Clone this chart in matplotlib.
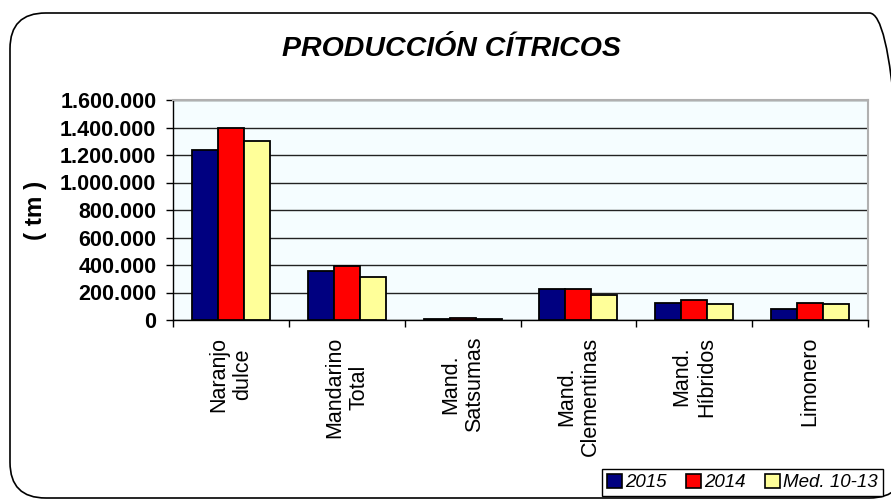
import numpy as np
import matplotlib
matplotlib.use("Agg")
import matplotlib.pyplot as plt
from matplotlib.patches import FancyBboxPatch, Patch
from matplotlib.ticker import FuncFormatter

# Datos (toneladas)
categorias = ["Naranjo\ndulce", "Mandarino\nTotal", "Mand.\nSatsumas",
              "Mand.\nClementinas", "Mand.\nHíbridos", "Limonero"]
prod_2015 = [1240000, 360000, 5000, 227000, 123000, 82000]
prod_2014 = [1400000, 396000, 14000, 229000, 145000, 123000]
media_10_13 = [1303000, 313000, 8000, 183000, 114000, 114000]
series = ["2015", "2014", "Med. 10-13"]
colores = ["#000080", "#FF0000", "#FFFF99"]

plt.rcParams['font.family'] = ['Liberation Sans', 'DejaVu Sans']

fig = plt.figure(figsize=(8.91, 5), dpi=100)
ax = fig.add_axes([173/891, 1-320/500, 695/891, 220/500])

# marco redondeado del grafico (sale por la derecha, como en el original)
marco = FancyBboxPatch((10/891, 2/500), 895/891, 485/500,
                       boxstyle="round,pad=0,rounding_size=0.04",
                       transform=fig.transFigure, fill=False,
                       edgecolor="black", linewidth=1.2, mutation_aspect=891/500)
fig.patches.append(marco)

x = np.arange(len(categorias))
w = 0.224
for i, (vals, c) in enumerate(zip([prod_2015, prod_2014, media_10_13], colores)):
    ax.bar(x + (i-1)*w, vals, width=w, color=c, edgecolor="black",
           linewidth=1.3, zorder=3)

ax.set_facecolor("#F5FDFF")
ax.set_xlim(-0.5, len(categorias)-0.5)
ax.set_ylim(0, 1600000)
ax.set_yticks(np.arange(0, 1600001, 200000))
ax.yaxis.set_major_formatter(FuncFormatter(lambda v, p: f"{int(v):,}".replace(",", ".")))
ax.grid(axis="y", color="#222222", linewidth=1, zorder=0)

for s in ["top", "right"]:
    ax.spines[s].set_color("#B0B0B0")
    ax.spines[s].set_linewidth(1.5)
for s in ["left", "bottom"]:
    ax.spines[s].set_color("black")
    ax.spines[s].set_linewidth(1)

ax.tick_params(axis="y", length=5, width=1, pad=7, labelsize=15.5)
for lab in ax.get_yticklabels():
    lab.set_fontweight("bold")

ax.set_xticks(x)
ax.set_xticklabels(categorias, rotation=90, fontsize=15.5, va="top",
                   ha="center", multialignment="center")
ax.tick_params(axis="x", which="major", length=0, pad=12)
ax.set_xticks(np.arange(-0.5, len(categorias), 1), minor=True)
ax.tick_params(axis="x", which="minor", length=5, width=1)

ax.set_ylabel("( tm )", fontsize=17.5, fontweight="bold")
ax.yaxis.set_label_coords(-0.181, 0.5)

fig.text(451/891, 1-49/500, "PRODUCCIÓN CÍTRICOS", ha="center", va="center",
         fontsize=20.5, fontweight="bold", fontstyle="italic")

handles = [Patch(facecolor=c, edgecolor="black", linewidth=1.2) for c in colores]
leg = fig.legend(handles, series, loc="lower left",
                 bbox_to_anchor=(602/891, 1-496/500), ncol=3,
                 prop={"size": 13.5, "style": "italic"},
                 frameon=True, fancybox=False, framealpha=1,
                 edgecolor="black", borderpad=0.25, handlelength=0.8,
                 handleheight=0.8, handletextpad=0.2, columnspacing=1.0,
                 borderaxespad=0)
leg.get_frame().set_linewidth(1)

fig.savefig("out.png", dpi=100)
